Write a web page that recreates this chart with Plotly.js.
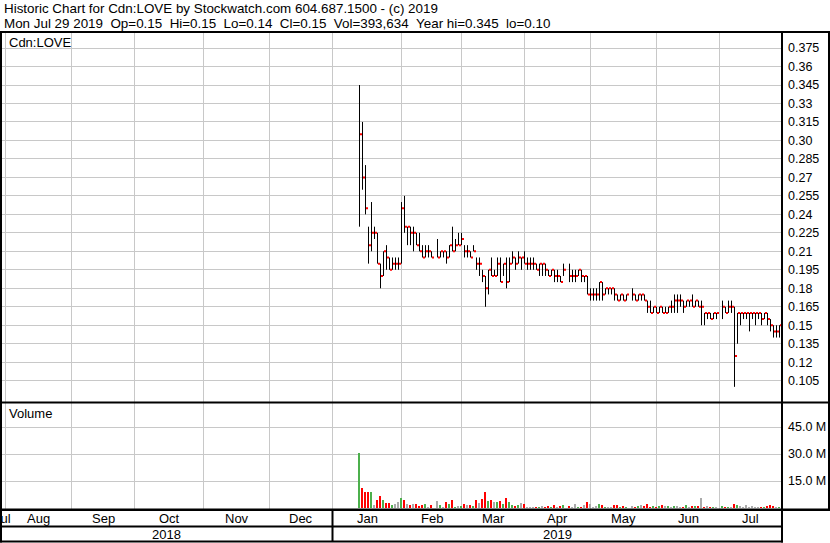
<!DOCTYPE html>
<html><head><meta charset="utf-8">
<script src="https://cdn.plot.ly/plotly-3.0.1.min.js"></script>
<style>html,body{margin:0;padding:0;background:#fff;overflow:hidden}#chart{width:830px;height:543px}</style>
</head><body><div id="chart"></div>
<script>
// Daily data, one slot per weekday from Mon 2019-01-14 to Mon 2019-07-29 (null = market holiday)
const high = [
.345,.315,.28,.23,.25,.23,.225,.20,.21,.215,
.205,.205,.205,.205,.25,.255,.23,.23,.23,.225,
.225,.215,.215,.215,.21,null,.22,.21,.21,.21,
.215,.23,.22,.225,.225,.215,.215,.21,.215,.205,
.205,.195,.19,.195,.205,.195,.205,.205,.20,.205,
.205,.21,.205,.21,.205,.21,.205,.205,.205,.20,
.20,.20,.20,.195,.195,.195,.195,.19,.20,null,
.20,.195,.195,.195,.195,.19,.19,.18,.18,.18,
.185,.185,.18,.18,.18,.18,.175,.175,.175,.175,
null,.18,.175,.175,.175,.175,.17,.17,.165,.165,
.165,.165,.165,.165,.17,.175,.175,.175,.17,.17,
.17,.175,.17,.17,.17,.16,.16,.16,.16,.16,
null,.17,.165,.17,.17,.165,.16,.16,.16,.16,
.16,.16,.16,.16,.16,.16,.16,.155,.15,.15,
.15];
const low = [
.23,.26,.24,.20,.21,.22,.20,.18,.19,.195,
.195,.195,.195,.195,.20,.225,.215,.215,.21,.215,
.21,.205,.205,.205,.205,null,.205,.205,.205,.20,
.205,.21,.21,.215,.215,.205,.205,.205,.21,.195,
.19,.185,.165,.175,.19,.19,.19,.185,.19,.18,
.185,.20,.195,.20,.195,.20,.195,.195,.195,.195,
.19,.19,.19,.19,.19,.185,.185,.185,.19,null,
.185,.185,.185,.19,.185,.185,.175,.17,.17,.17,
.17,.17,.175,.175,.175,.17,.17,.17,.17,.17,
null,.17,.17,.17,.17,.17,.16,.16,.16,.16,
.16,.16,.16,.16,.16,.16,.16,.165,.16,.165,
.165,.165,.165,.165,.15,.15,.155,.155,.155,.155,
null,.155,.16,.16,.16,.10,.135,.15,.155,.155,
.145,.155,.15,.155,.15,.155,.15,.145,.14,.14,
.14];
const close = [
.305,.27,.245,.215,.225,.225,.20,.19,.21,.205,
.195,.20,.20,.20,.245,.23,.23,.225,.225,.215,
.21,.205,.21,.21,.205,null,.205,.21,.21,.205,
.215,.21,.215,.215,.22,.21,.21,.205,.21,.20,
.20,.19,.18,.195,.19,.19,.20,.185,.20,.185,
.20,.205,.20,.205,.205,.20,.20,.20,.20,.195,
.20,.20,.195,.19,.195,.19,.19,.185,.195,null,
.19,.19,.19,.195,.19,.19,.175,.175,.175,.175,
.185,.175,.18,.18,.18,.175,.17,.175,.17,.175,
null,.175,.17,.175,.175,.17,.165,.16,.165,.16,
.165,.16,.16,.165,.165,.17,.17,.17,.165,.17,
.17,.165,.17,.165,.165,.16,.16,.155,.16,.16,
null,.165,.16,.165,.165,.125,.16,.16,.16,.16,
.16,.16,.16,.16,.155,.16,.155,.15,.145,.145,
.15];
// volume in millions of shares
const volumeM = [
30.6,11.1,8.9,8.9,8.9,1.7,4.4,6.7,4.4,2.8,
2.8,1.7,2.2,3.3,5.6,4.4,2.2,1.7,2.2,2.2,
1.3,1.7,2.2,0.6,1.7,null,3.9,1.7,0.6,3.3,
2.2,4.4,0.6,1.1,1.1,2.2,1.7,1.7,1.1,4.4,
2.8,5.0,8.9,3.9,4.4,3.3,3.3,3.9,2.2,5.6,
3.3,1.7,1.1,1.7,2.8,2.2,0.6,0.6,0.6,0.6,
0.6,1.1,0.6,1.1,0.6,1.7,0.6,1.1,1.7,null,
1.3,0.8,2.5,0.8,0.8,1.9,3.1,2.5,0.8,1.3,
2.5,1.9,0.8,0.8,0.8,1.9,1.9,0.8,1.3,0.8,
null,1.3,0.8,1.3,1.9,1.3,2.5,0.8,1.3,0.8,
1.3,1.9,1.3,1.3,0.8,1.3,1.3,0.8,0.8,1.9,
0.8,1.3,1.3,1.3,5.4,0.8,1.3,0.8,0.8,0.8,
null,1.3,0.8,0.8,0.8,2.5,1.9,1.3,0.8,1.9,
0.8,1.3,0.8,0.8,0.8,0.8,1.3,1.9,1.3,0.8,
0.39];
// month boundaries as weekday-slot numbers (slot 1 = 2019-01-14)
const monthNames = ['Jul','Aug','Sep','Oct','Nov','Dec','Jan','Feb','Mar','Apr','May','Jun','Jul'];
const monthStartSlot = [-117,-95,-74,-51,-29,-8,15,35,56,78,100,121];
const yearNames = ['2018','2019'];
const yearStartSlot = [-8];
const priceTicks = [0.375,0.36,0.345,0.33,0.315,0.30,0.285,0.27,0.255,0.24,0.225,0.21,0.195,0.18,0.165,0.15,0.135,0.12,0.105];
const priceTickText = ['0.375','0.36','0.345','0.33','0.315','0.30','0.285','0.27','0.255','0.24','0.225','0.21','0.195','0.18','0.165','0.15','0.135','0.12','0.105'];
const volTicks = [15e6,30e6,45e6];
const volTickText = ['15.0 M','30.0 M','45.0 M'];
const headerLine1 = 'Historic Chart for Cdn:LOVE by Stockwatch.com 604.687.1500 - (c) 2019';
const headerLine2 = ['Mon Jul 29 2019','Op=0.15','Hi=0.15','Lo=0.14','Cl=0.15','Vol=393,634','Year hi=0.345','lo=0.10'];
const symbolName = 'Cdn:LOVE';

// ---- layout geometry (pixels) ----
const FONT = 'Liberation Sans, Arial, sans-serif';
const L = 1, R = 782, T = 32, B = 509, SEP = 402;
const PW = R - L, PH = B - T;
const px2x = p => (p - L) / PW;
const px2y = p => (B - p) / PH;
const SLOT_PX = 3, FIRST_SLOT_PX = 359.5;
const xr0 = 1 - (FIRST_SLOT_PX - L) / SLOT_PX;
const xr1 = xr0 + PW / SLOT_PX;
const PX_PER_PRICE = 18.48 / 0.015, PRICE_REF = 0.345, PRICE_REF_PX = 85;
const yTop = PRICE_REF + (PRICE_REF_PX - T) / PX_PER_PRICE;
const yBot = PRICE_REF - (SEP - PRICE_REF_PX) / PX_PER_PRICE;
const VOL_ZERO_PX = 508, PX_PER_M = 1.8;
const vTop = (VOL_ZERO_PX - SEP) / PX_PER_M * 1e6;
const vBot = (VOL_ZERO_PX - B) / PX_PER_M * 1e6;
const volDomainTop = px2y(SEP);

const slot = close.map((_, i) => i + 1);
const lx = [], ly = [];
slot.forEach((k, i) => { if (high[i] != null) { lx.push(k, k, null); ly.push(low[i], high[i], null); } });
const volColors = close.map((c, i) => {
  let p = null; for (let j = i - 1; j >= 0; j--) { if (close[j] != null) { p = close[j]; break; } }
  if (c == null || p == null) return '#4cb04c';
  return c > p + 1e-9 ? '#4cb04c' : (c < p - 1e-9 ? '#ff0000' : '#aaaaaa');
});

const traces = [
  {type:'scatter', mode:'lines', x:lx, y:ly, xaxis:'x', yaxis:'y', line:{color:'#000', width:1}, hoverinfo:'skip', showlegend:false},
  {type:'scatter', mode:'markers', x:slot.map(k => k + 0.5), y:close, xaxis:'x', yaxis:'y',
   marker:{symbol:'square', size:2, color:'#ff0000', line:{width:0}}, hoverinfo:'skip', showlegend:false},
  {type:'bar', x:slot, y:volumeM.map(v => v == null ? null : v * 1e6), xaxis:'x2', yaxis:'y2',
   width:2/SLOT_PX, offset:-1.5/SLOT_PX, marker:{color:volColors, line:{width:0}}, hoverinfo:'skip', showlegend:false}
];

const xCommon = {range:[xr0, xr1], tickmode:'array', tickvals:monthStartSlot, showticklabels:false, ticks:'',
  showgrid:true, gridcolor:'#c8c8c8', gridwidth:1, zeroline:false, showline:false, fixedrange:true};
const tickfont = {family:FONT, size:12.5, color:'#000'};

const annotations = [];
const ann = (text, x, y, xanchor, size) => annotations.push({text, x, y, xref:'paper', yref:'paper',
  xanchor, yanchor:'middle', showarrow:false, font:{family:FONT, size:size || 13, color:'#000'}, borderpad:0});
ann(headerLine1, px2x(3), px2y(8), 'left', 13.4);
ann(headerLine2.join('\u00a0\u00a0'), px2x(3), px2y(23.5), 'left', 13.4);
ann(symbolName, px2x(8), px2y(43), 'left');
ann('Volume', px2x(8), px2y(413), 'left');
const bounds = [xr0].concat(monthStartSlot, [xr1]);
monthNames.forEach((m, i) => {
  const lo = bounds[i], hi = bounds[i + 1];
  const mid = i === 0 ? xr0 + 0.5 : (lo + hi) / 2;
  annotations.push({text:m, x:mid, y:px2y(518.5), xref:'x', yref:'paper', xanchor:'center', yanchor:'middle',
    showarrow:false, font:{family:FONT, size:13, color:'#000'}, borderpad:0});
});
const yb = [xr0].concat(yearStartSlot, [xr1]);
yearNames.forEach((y, i) => {
  annotations.push({text:y, x:(yb[i] + yb[i + 1]) / 2, y:px2y(534), xref:'x', yref:'paper', xanchor:'center', yanchor:'middle',
    showarrow:false, font:{family:FONT, size:13, color:'#000'}, borderpad:0});
});

const rect = (x0, x1, y0, y1) => ({type:'rect', xref:'paper', yref:'paper', x0:px2x(x0), x1:px2x(x1), y0:px2y(y0), y1:px2y(y1),
  fillcolor:'#000', line:{width:0}, layer:'above'});
const yearSepPx = L + (yearStartSlot[0] - xr0) * SLOT_PX;
const shapes = [
  rect(0, 830, 31, 33),
  rect(0, 2, 31, 542.5),
  rect(781, 783, 31, 542.5),
  rect(828, 830, 31, 511),
  rect(0, 830, 401.5, 403.5),
  rect(0, 830, 508.5, 511),
  rect(0, 783, 525.5, 527.5),
  rect(0, 783, 540.5, 542.5),
  rect(yearSepPx - 1, yearSepPx + 1, 510, 541)
];

const layout = {
  width:830, height:543, margin:{l:L, r:830 - R, t:T, b:543 - B, pad:0},
  paper_bgcolor:'#fff', plot_bgcolor:'#fff', showlegend:false, bargap:0,
  font:{family:FONT, size:13, color:'#000'},
  xaxis:Object.assign({domain:[0, 1], anchor:'y'}, xCommon),
  xaxis2:Object.assign({domain:[0, 1], anchor:'y2', matches:'x'}, xCommon),
  yaxis:{domain:[volDomainTop, 1], range:[yBot, yTop], anchor:'x', side:'right', tickmode:'array', tickvals:priceTicks,
    ticktext:priceTickText, ticks:'', ticklabelstandoff:5, showgrid:true, gridcolor:'#c8c8c8', gridwidth:1,
    zeroline:false, showline:false, tickfont, fixedrange:true},
  yaxis2:{domain:[0, volDomainTop], range:[vBot, vTop], anchor:'x2', side:'right', tickmode:'array', tickvals:volTicks,
    ticktext:volTickText, ticks:'', ticklabelstandoff:5, showgrid:true, gridcolor:'#c8c8c8', gridwidth:1,
    zeroline:false, showline:false, tickfont, fixedrange:true},
  annotations, shapes
};
Plotly.newPlot('chart', traces, layout, {displayModeBar:false, staticPlot:true});
</script></body></html>
